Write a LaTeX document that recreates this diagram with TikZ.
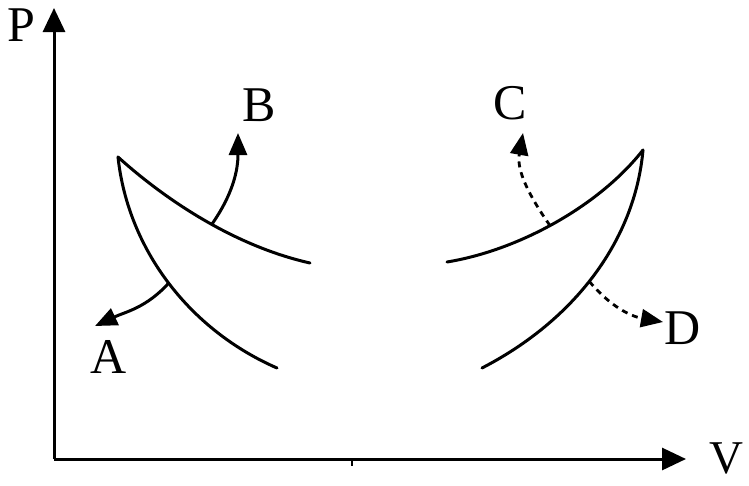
\documentclass[tikz,border=0pt]{standalone}
\usepackage{fontspec}
\setmainfont{Liberation Serif}
\usetikzlibrary{arrows.meta}
\begin{document}
\begin{tikzpicture}[x=1pt,y=1pt,
  lbl/.style={font=\fontsize{50}{50}\selectfont, inner sep=0pt},
  axis/.style={line width=3pt, -{Triangle[length=24pt,width=22pt]}},
  curve/.style={line width=3pt, line cap=round},
  solidarrow/.style={line width=3pt, -{Triangle[length=22pt,width=18pt]}},
  dasharrow/.style={line width=2.8pt, dash pattern=on 6pt off 5pt, -{Triangle[length=22pt,width=18pt]}}]
\useasboundingbox (0,0) rectangle (749,-485);
% axes
\coordinate (O) at (54,-459);
\coordinate (Ytip) at (54,-8);
\coordinate (Xtip) at (686,-459);
\draw[axis] (O) -- (Ytip);
\draw[axis] (O) -- (Xtip);
\coordinate (tk1) at (352,-459);
\coordinate (tk2) at (352,-466);
\draw[line width=1.2pt] (tk1) -- (tk2);
\node[lbl] (P) at (21,-25) {P};
\node[lbl, font=\fontsize{47}{47}\selectfont, anchor=base] (V) at (726,-473) {V};
% left curves
\coordinate (L) at (118,-157);
\coordinate (L1) at (310,-263);
\coordinate (L2) at (277,-368);
\draw[curve] (L) .. controls (160,-195) and (230,-245) .. coordinate[pos=0.56] (b1) (L1);
\draw[curve] (L) .. controls (128,-250) and (190,-330) .. coordinate[pos=0.5] (a1) (L2);
% right curves
\coordinate (R) at (643,-150);
\coordinate (R1) at (447,-262);
\coordinate (R2) at (482,-368);
\draw[curve] (R) .. controls (600,-205) and (520,-250) .. coordinate[pos=0.53] (c1) (R1);
\draw[curve] (R) .. controls (635,-240) and (575,-320) .. coordinate[pos=0.53] (d1) (R2);
% arrows
\coordinate (Atip) at (95,-326);
\coordinate (Btip) at (238,-133);
\coordinate (Ctip) at (523,-133);
\coordinate (Dtip) at (663,-322);
\draw[solidarrow] (a1) to[out=228,in=25] (Atip);
\draw[solidarrow] (b1) to[out=55,in=-90] (Btip);
\draw[dasharrow] (c1) to[out=125,in=-100] (Ctip);
\draw[dasharrow] (d1) to[out=-50,in=170] (Dtip);
% labels
\node[lbl] (A) at (109,-357) {A};
\node[lbl] (B) at (259,-105) {B};
\node[lbl] (C) at (510,-103) {C};
\node[lbl] (D) at (683,-328) {D};
\end{tikzpicture}
\end{document}
